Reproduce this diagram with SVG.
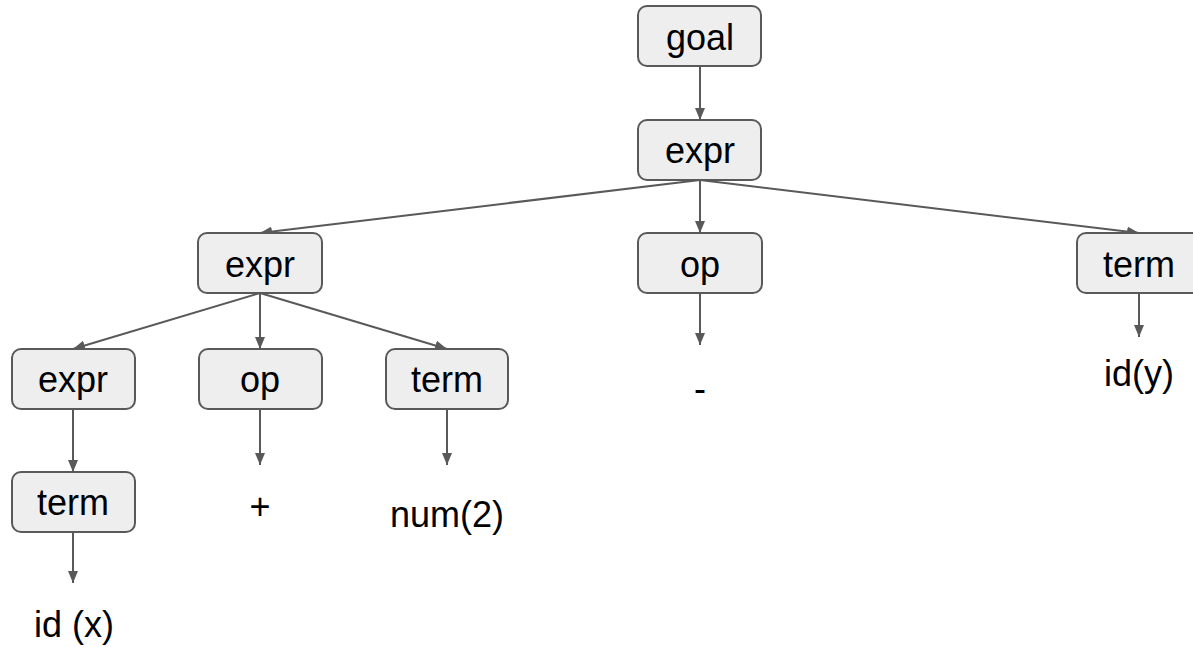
<svg xmlns="http://www.w3.org/2000/svg" width="1193" height="647" viewBox="0 0 1193 647">
<style>
.box{fill:#eeeeee;stroke:#595959;stroke-width:2}
.lbl{font-family:"Liberation Sans",Arial,sans-serif;font-size:36px;fill:#000;text-anchor:middle}
.edge{stroke:#595959;stroke-width:2;fill:none;marker-end:url(#ah)}
</style>
<defs>
<marker id="ah" viewBox="0 0 12 10" refX="12" refY="5" markerWidth="12" markerHeight="10" markerUnits="userSpaceOnUse" orient="auto">
<path d="M0,0 L12,5 L0,10 Z" fill="#595959"/>
</marker>
</defs>
<rect width="1193" height="647" fill="#ffffff"/>
<g id="connectors">
<line class="edge" x1="700" y1="66" x2="700" y2="120"/>
<line class="edge" x1="700" y1="180" x2="260" y2="233"/>
<line class="edge" x1="700" y1="180" x2="700" y2="233"/>
<line class="edge" x1="700" y1="180" x2="1139" y2="233"/>
<line class="edge" x1="260" y1="293" x2="73" y2="349"/>
<line class="edge" x1="260" y1="293" x2="260" y2="349"/>
<line class="edge" x1="260" y1="293" x2="447" y2="349"/>
<line class="edge" x1="73" y1="409" x2="73" y2="472"/>
<line class="edge" x1="73" y1="532" x2="73" y2="583"/>
<line class="edge" x1="260" y1="409" x2="260" y2="465"/>
<line class="edge" x1="447" y1="409" x2="447" y2="465"/>
<line class="edge" x1="700" y1="293" x2="700" y2="345"/>
<line class="edge" x1="1139" y1="293" x2="1139" y2="337"/>
</g>
<g id="goal"><rect class="box" x="638" y="6" width="123" height="60" rx="9"/><text class="lbl" x="700" y="50">goal</text></g>
<g id="expr_root"><rect class="box" x="638" y="120" width="123" height="60" rx="9"/><text class="lbl" x="700" y="163">expr</text></g>
<g id="expr_left"><rect class="box" x="198" y="233" width="124" height="60" rx="9"/><text class="lbl" x="260" y="277">expr</text></g>
<g id="op_mid"><rect class="box" x="638" y="233" width="124" height="60" rx="9"/><text class="lbl" x="700" y="277">op</text></g>
<g id="term_right"><rect class="box" x="1077" y="233" width="124" height="60" rx="9"/><text class="lbl" x="1139" y="277">term</text></g>
<g id="expr_ll"><rect class="box" x="12" y="349" width="123" height="60" rx="9"/><text class="lbl" x="73" y="392">expr</text></g>
<g id="op_l"><rect class="box" x="199" y="349" width="123" height="60" rx="9"/><text class="lbl" x="260" y="392">op</text></g>
<g id="term_l"><rect class="box" x="386" y="349" width="122" height="60" rx="9"/><text class="lbl" x="447" y="392">term</text></g>
<g id="term_ll"><rect class="box" x="12" y="472" width="123" height="60" rx="9"/><text class="lbl" x="73" y="515">term</text></g>
<g id="leaf_idx"><text class="lbl" x="74" y="637">id (x)</text></g>
<g id="leaf_plus"><text class="lbl" x="260" y="519">+</text></g>
<g id="leaf_num"><text class="lbl" x="447" y="527">num(2)</text></g>
<g id="leaf_minus"><text class="lbl" x="700" y="401">-</text></g>
<g id="leaf_idy"><text class="lbl" x="1139" y="386">id(y)</text></g>
</svg>
